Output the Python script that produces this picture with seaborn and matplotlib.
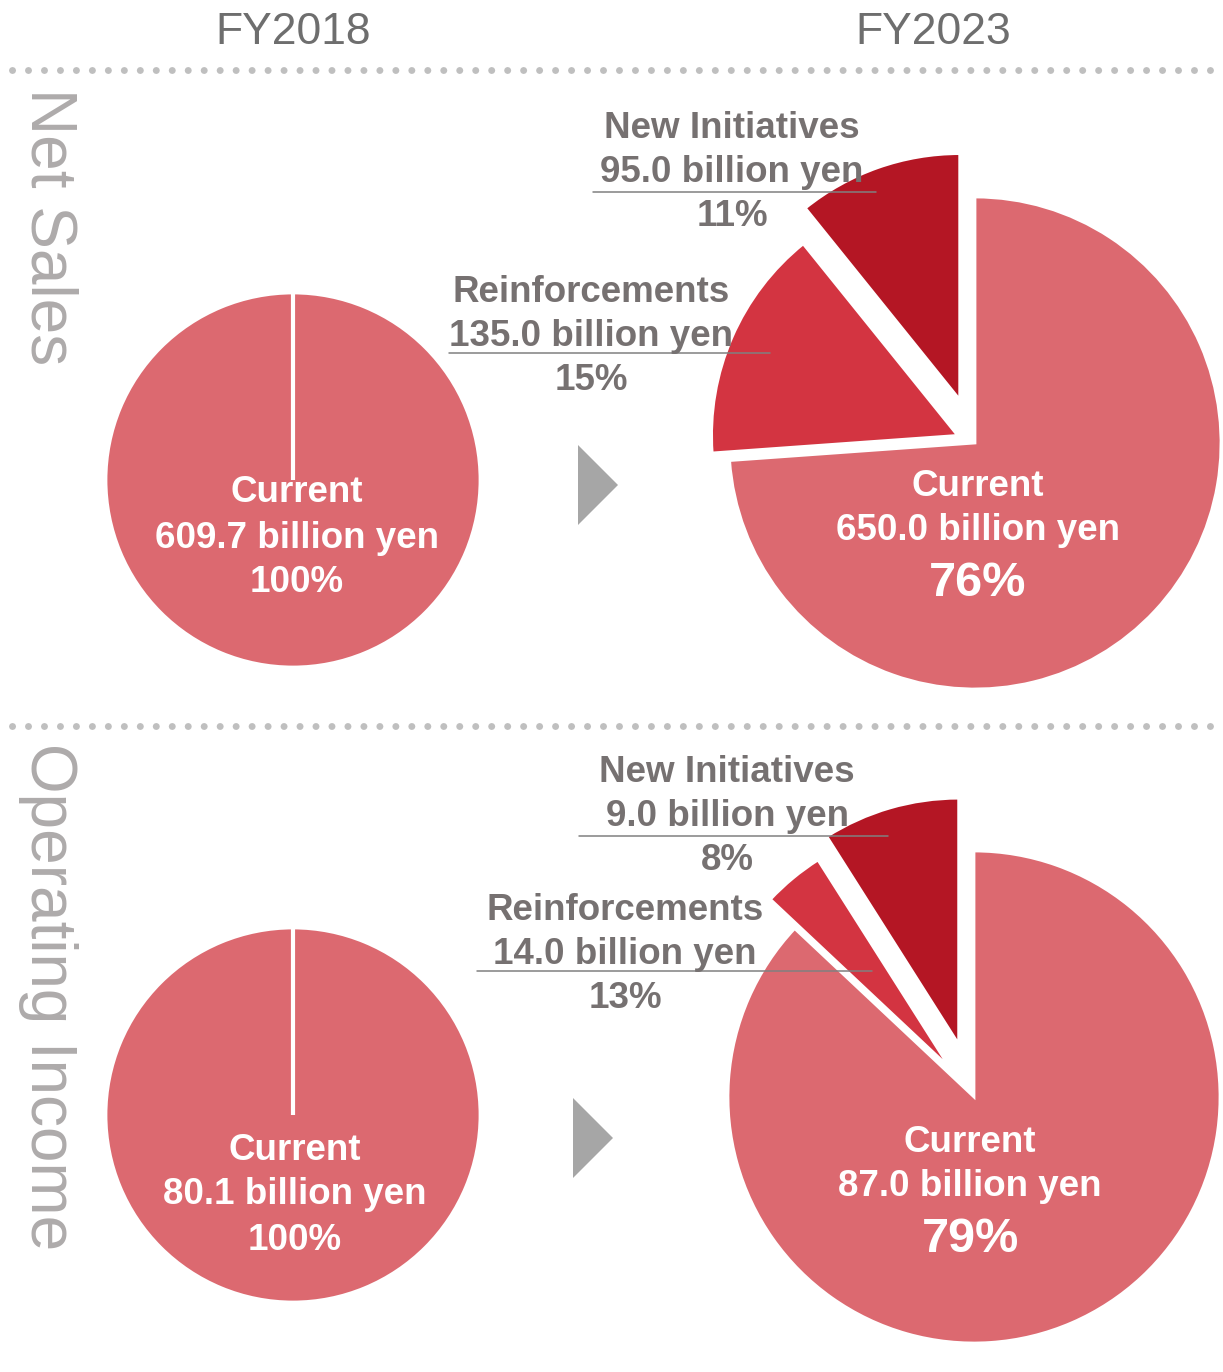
import matplotlib
matplotlib.use("Agg")
import matplotlib.pyplot as plt
from matplotlib.patches import Polygon
import seaborn as sns

# ----------------------------
# Data
# ----------------------------
years = ["FY2018", "FY2023"]
metrics = ["Net Sales", "Operating Income"]
segments = ["Current", "Reinforcements", "New Initiatives"]

ns_2018 = [609.7]
ns_2023 = [650.0, 135.0, 95.0]
ns_2023_pct = ["76%", "15%", "11%"]

oi_2018 = [80.1]
oi_2023 = [87.0, 14.0, 9.0]
oi_2023_pct = ["79%", "13%", "8%"]
# slice sizes as drawn in the source chart (operating income wedges are not to scale)
oi_2023_wedges = [87.0, 4.0, 9.0]

# ----------------------------
# Style
# ----------------------------
sns.set_theme(style="white")
plt.rcParams["font.family"] = ["Liberation Sans", "DejaVu Sans"]

seg_colors = ["#DC6970", "#D33441", "#B41624"]
label_gray = "#767171"
side_gray = "#AEABAB"

W, H = 1223, 1372
fig = plt.figure(figsize=(W / 100, H / 100), dpi=100)
ax = fig.add_axes([0, 0, 1, 1])


def Y(y):
    # layout is measured from the top of the image
    return H - y


def draw_pie(values, cx, cy, r, explode):
    ax.pie(values, colors=seg_colors[:len(values)], startangle=90, counterclock=False,
           radius=r, center=(cx, Y(cy)), explode=explode,
           wedgeprops=dict(edgecolor="white", linewidth=2))
    if len(values) == 1:
        # white seam at 12 o'clock
        ax.plot([cx, cx], [Y(cy), Y(cy) + r], color="white", lw=3, solid_capstyle="butt")


def block(x, ys, lines, color, sizes):
    for y, txt, s in zip(ys, lines, sizes):
        ax.text(x, Y(y + 3), txt, ha="center", va="center", color=color,
                fontsize=s, fontweight="bold")


def bn(v):
    return f"{v:.1f} billion yen"


# ----------------------------
# Pies
# ----------------------------
draw_pie(ns_2018, 293, 480, 187, [0])
draw_pie(ns_2023, 975, 443, 246, [0, 19, 46])
draw_pie(oi_2018, 293, 1115, 187, [0])
draw_pie(oi_2023_wedges, 974, 1097, 246, [0, 38, 55])

# leader lines under outside labels
for x0, x1, y in [(593, 876, 192), (449, 770, 353), (579, 888, 836), (477, 872, 971)]:
    ax.plot([x0, x1], [Y(y), Y(y)], color="#808080", lw=1.1)

# ----------------------------
# Labels
# ----------------------------
fs = 26.5
block(297, [490, 535, 579], [segments[0], bn(ns_2018[0]), "100%"], "white", [fs, fs, fs])
block(978, [483, 528, 580], [segments[0], bn(ns_2023[0]), ns_2023_pct[0]], "white", [fs, fs, 35])
block(591, [289, 333, 378], [segments[1], bn(ns_2023[1]), ns_2023_pct[1]], label_gray, [fs, fs, fs])
block(732, [125, 170, 214], [segments[2], bn(ns_2023[2]), ns_2023_pct[2]], label_gray, [fs, fs, fs])

block(295, [1147, 1192, 1238], [segments[0], bn(oi_2018[0]), "100%"], "white", [fs, fs, fs])
block(970, [1139, 1184, 1236], [segments[0], bn(oi_2023[0]), oi_2023_pct[0]], "white", [fs, fs, 35])
block(625, [907, 951, 996], [segments[1], bn(oi_2023[1]), oi_2023_pct[1]], label_gray, [fs, fs, fs])
block(727, [769, 813, 858], [segments[2], bn(oi_2023[2]), oi_2023_pct[2]], label_gray, [fs, fs, fs])

# year headers
for x, yr in zip([293, 933], years):
    ax.text(x, Y(32), yr, ha="center", va="center", color="#6E6E6E", fontsize=32,
            family=["Liberation Sans Narrow", "Liberation Sans", "DejaVu Sans"])

# row titles
for yc, m in zip([227, 997], metrics):
    ax.text(48, Y(yc), m, ha="center", va="center", rotation=-90,
            color=side_gray, fontsize=46)

# dotted separators
for y in [70, 726]:
    ax.plot([12, 1216], [Y(y), Y(y)], color="#BFBFBF", lw=5,
            linestyle=(0, (0.01, 2.29)), dash_capstyle="round")

# arrows
for x, yc in [(578, 485), (573, 1138)]:
    ax.add_patch(Polygon([(x, Y(yc - 40)), (x + 40, Y(yc)), (x, Y(yc + 40))],
                         closed=True, color="#A6A6A6", lw=0))

ax.set_xlim(0, W)
ax.set_ylim(0, H)
ax.set_aspect("equal")
ax.axis("off")

fig.savefig("out.png", dpi=100)
